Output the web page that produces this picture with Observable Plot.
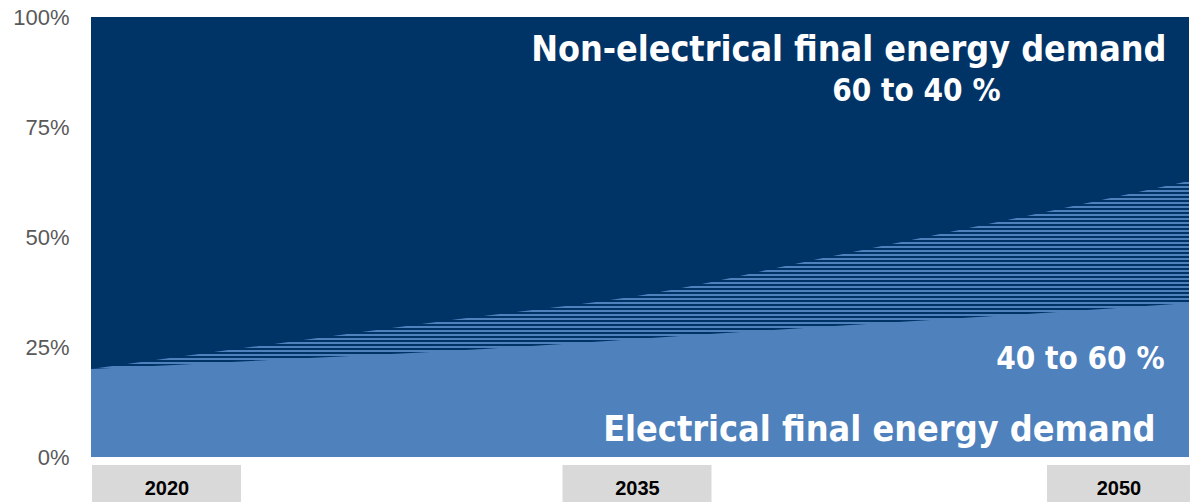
<!DOCTYPE html>
<html>
<head>
<meta charset="utf-8">
<script src="https://cdn.jsdelivr.net/npm/d3@7"></script>
<script src="https://cdn.jsdelivr.net/npm/@observablehq/plot@0.6"></script>
<style>
  html, body { margin: 0; padding: 0; background: #ffffff; }
  #chart { width: 1190px; height: 502px; overflow: hidden; }
</style>
</head>
<body>
<div id="chart"></div>
<script>
// ---- data ----
const years = [2020, 2025, 2030, 2035, 2040, 2045, 2050];
// share of electrical final energy demand (%), lower band
const electricalShare = [20, 22.1, 24.2, 26.9, 29.6, 32.2, 35];
// upper edge of the hatched (range) band (%)
const electricalUpper = [20, 25.7, 31.3, 36.7, 45.2, 53.8, 62.7];
const yTicks = [0, 25, 50, 75, 100];
const yearLabels = [2020, 2035, 2050];
const labelTop = "Non-electrical final energy demand";
const labelTopRange = "60 to 40 %";
const labelBottomRange = "40 to 60 %";
const labelBottom = "Electrical final energy demand";

// ---- layout ----
const W = 1190, H = 502;
const mL = 91, mR = 1, mT = 17, mB = 45;
const plotW = W - mL - mR, plotH = H - mT - mB;
const kx = (years[years.length - 1] - years[0]) / plotW; // years per px
const ky = 100 / plotH;                                   // % per px

const rows = years.map((year, i) => ({year, elec: electricalShare[i], upper: electricalUpper[i]}));

const dark = "#003366", light = "#4F81BD";
const bigFont = "'Liberation Sans Narrow', 'DejaVu Sans Condensed', 'Roboto', sans-serif";

// year boxes below the plot
const boxW = 149;
const boxes = yearLabels.map((y, i) => {
  let x1;
  if (i === 0) x1 = y + 1 * kx;
  else if (i === yearLabels.length - 1) x1 = y - 142 * kx;
  else x1 = y - (boxW / 2 + 3) * kx;
  const x2 = i === yearLabels.length - 1 ? y + 1 * kx : x1 + boxW * kx;
  return {label: String(y), x1, x2, xc: (x1 + x2) / 2};
});

const chart = Plot.plot({
  width: W, height: H,
  marginLeft: mL, marginRight: mR, marginTop: mT, marginBottom: mB,
  x: {domain: [years[0], years[years.length - 1]], axis: null},
  y: {domain: [0, 100], axis: null},
  style: {fontFamily: "'Liberation Sans', Arial, sans-serif", background: "#ffffff"},
  marks: [
    Plot.rect([0], {x1: () => years[0], x2: () => years[years.length - 1], y1: () => 0, y2: () => 100, fill: dark}),
    Plot.areaY(rows, {x: "year", y1: () => 0, y2: "upper", fill: "url(#hatch)", curve: "monotone-x"}),
    Plot.areaY(rows, {x: "year", y1: () => 0, y2: "elec", fill: light, curve: "monotone-x"}),
    Plot.axisY({ticks: yTicks, tickSize: 0, tickPadding: 22, tickFormat: d => d + "%",
      fontSize: 22, fill: "#595959", label: null, fontFamily: "'Liberation Sans', Arial, sans-serif"}),
    Plot.rect(boxes, {x1: "x1", x2: "x2", y1: () => -8 * ky, y2: () => -45 * ky, fill: "#D9D9D9"}),
    Plot.text(boxes, {x: "xc", y: () => -31 * ky, text: "label", fontSize: 20, fontWeight: "bold", fill: "#000000"}),
    Plot.text([labelTop], {x: () => 2050 - 23 * kx, y: () => (457 - 60) * ky, text: d => d, textAnchor: "end",
      lineAnchor: "bottom", fontSize: 35.6, fontWeight: "bold", fill: "#ffffff", fontFamily: bigFont}),
    Plot.text([labelTopRange], {x: () => 2050 - 189 * kx, y: () => (457 - 100) * ky, text: d => d, textAnchor: "end",
      lineAnchor: "bottom", fontSize: 31.2, fontWeight: "bold", fill: "#ffffff", fontFamily: bigFont}),
    Plot.text([labelBottomRange], {x: () => 2050 - 25 * kx, y: () => (457 - 368) * ky, text: d => d, textAnchor: "end",
      lineAnchor: "bottom", fontSize: 31.2, fontWeight: "bold", fill: "#ffffff", fontFamily: bigFont}),
    Plot.text([labelBottom], {x: () => 2050 - 34 * kx, y: () => (457 - 440) * ky, text: d => d, textAnchor: "end",
      lineAnchor: "bottom", fontSize: 35.7, fontWeight: "bold", fill: "#ffffff", fontFamily: bigFont})
  ]
});

// horizontal stripe pattern for the range band
const ns = "http://www.w3.org/2000/svg";
const defs = document.createElementNS(ns, "defs");
const pat = document.createElementNS(ns, "pattern");
pat.setAttribute("id", "hatch");
pat.setAttribute("patternUnits", "userSpaceOnUse");
pat.setAttribute("width", "8");
pat.setAttribute("height", "4");
const r1 = document.createElementNS(ns, "rect");
r1.setAttribute("width", "8"); r1.setAttribute("height", "4"); r1.setAttribute("fill", light);
const r2 = document.createElementNS(ns, "rect");
r2.setAttribute("width", "8"); r2.setAttribute("height", "2"); r2.setAttribute("fill", dark);
pat.appendChild(r1); pat.appendChild(r2);
defs.appendChild(pat);
chart.insertBefore(defs, chart.firstChild);

document.getElementById("chart").appendChild(chart);
</script>
</body>
</html>
